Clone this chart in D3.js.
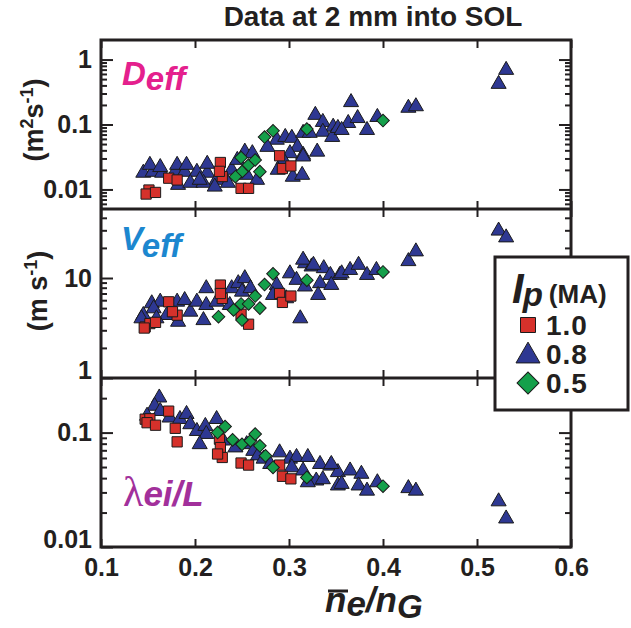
<!DOCTYPE html>
<html><head><meta charset="utf-8">
<script src="https://cdn.jsdelivr.net/npm/d3@7"></script>
<style>
body{margin:0;background:#fff}
svg{display:block}
text{font-family:"Liberation Sans",Arial,Helvetica,sans-serif;font-weight:bold;fill:#231f20}
</style>
</head><body>
<svg id="c" width="631" height="628"></svg>
<script>
// ---------- data ----------
const xTicks = [0.1, 0.2, 0.3, 0.4, 0.5, 0.6];
const xTickLabels = ["0.1", "0.2", "0.3", "0.4", "0.5", "0.6"];

const legendLabels = ["1.0", "0.8", "0.5"];

// Panel 1: D_eff (m^2 s^-1)
const dTri = [[0.145,0.018],[0.155,0.0186],[0.165,0.018],[0.179,0.019],[0.189,0.0186],[0.202,0.0186],[0.213,0.018],
[0.152,0.0238],[0.163,0.022],[0.181,0.0238],[0.191,0.0238],[0.213,0.0247],
[0.182,0.0117],[0.195,0.0126],[0.209,0.0126],[0.223,0.014],
[0.235,0.0126],[0.239,0.02],[0.221,0.011],[0.205,0.014],
[0.253,0.038],[0.261,0.036],[0.245,0.0284],[0.255,0.0167],[0.266,0.014],
[0.287,0.058],[0.296,0.064],[0.303,0.062],[0.277,0.045],[0.309,0.045],[0.315,0.034],[0.301,0.036],[0.294,0.0284],[0.304,0.0156],[0.314,0.0167],[0.288,0.02],[0.330,0.038],
[0.328,0.14],[0.336,0.109],[0.347,0.092],[0.315,0.074],[0.336,0.077],[0.346,0.064],[0.352,0.088],[0.366,0.22],[0.363,0.105],[0.373,0.125],[0.383,0.082],[0.394,0.13],[0.427,0.18],[0.435,0.19],[0.322,0.074],[0.356,0.082],[0.315,0.032],
[0.531,0.69],[0.523,0.42]];
const dSq = [[0.151,0.0098],[0.148,0.0085],[0.158,0.009],[0.172,0.0149],[0.181,0.014],[0.227,0.026],[0.229,0.0158],[0.226,0.019],[0.249,0.0104],[0.257,0.0104],[0.290,0.033],[0.293,0.021],[0.302,0.023]];
const dDia = [[0.249,0.031],[0.257,0.0237],[0.264,0.0284],[0.250,0.0188],[0.243,0.0157],[0.269,0.0188],[0.274,0.064],[0.283,0.080],[0.319,0.085],[0.400,0.115]];

// Panel 2: V_eff (m s^-1)
const vTri = [[0.145,4.25],[0.154,5.57],[0.163,5.78],[0.156,4.96],[0.170,4.25],[0.181,5.78],[0.189,6.0],[0.195,4.59],[0.202,5.78],[0.212,7.88],[0.212,5.35],[0.209,3.78],[0.182,3.64],[0.159,3.94],[0.143,3.94],[0.223,5.78],[0.239,7.88],[0.246,8.85],[0.253,9.93],[0.250,7.28],[0.259,7.88],[0.237,5.35],[0.287,8.5],[0.301,11.1],[0.308,9.55],[0.317,14.0],[0.324,13.0],[0.337,12.5],[0.344,10.7],[0.333,8.85],[0.354,10.7],[0.312,3.94],[0.283,6.75],[0.297,6.25],[0.331,6.75],[0.345,8.5],
[0.315,15.2],[0.326,13.5],[0.356,11.1],[0.365,12.0],[0.374,13.5],[0.383,10.7],[0.393,12.0],[0.317,8.2],[0.427,14.7],[0.435,18.4],[0.523,29.7],[0.531,25.4]];
const vSq = [[0.147,3.24],[0.152,3.5],[0.158,3.6],[0.146,3.16],[0.172,5.78],[0.181,4.25],[0.176,4.6],[0.227,8.5],[0.229,6.25],[0.227,7.0],[0.249,4.35],[0.257,3.45],[0.290,7.0],[0.293,5.7],[0.302,6.6]];
const vDia = [[0.283,11.0],[0.274,8.6],[0.264,6.6],[0.249,5.5],[0.257,5.5],[0.269,5.0],[0.241,4.8],[0.225,4.1],[0.250,3.8],[0.319,9.5],[0.400,11.5]];

// Panel 3: lambda_ei / L
const lTri = [[0.162,0.202],[0.157,0.171],[0.149,0.14],[0.163,0.154],[0.173,0.135],[0.184,0.131],[0.191,0.145],[0.195,0.118],[0.202,0.103],[0.211,0.114],[0.212,0.097],[0.223,0.131],[0.205,0.079],[0.230,0.085],[0.243,0.074],[0.255,0.079],[0.262,0.069],[0.267,0.063],[0.273,0.059],[0.290,0.067],[0.301,0.059],[0.308,0.061],[0.320,0.061],[0.333,0.053],[0.344,0.0513],[0.352,0.045],[0.303,0.0496],[0.315,0.0465],[0.329,0.038],[0.336,0.039],[0.320,0.0367],[0.280,0.053],[0.352,0.0344],
[0.345,0.053],[0.365,0.0465],[0.377,0.0435],[0.356,0.0355],[0.374,0.0344],[0.383,0.031],[0.394,0.0367],[0.427,0.0326],[0.435,0.031],[0.523,0.025],[0.531,0.0177]];
const lSq = [[0.147,0.131],[0.152,0.132],[0.149,0.122],[0.158,0.116],[0.172,0.154],[0.179,0.109],[0.181,0.083],[0.226,0.0876],[0.227,0.074],[0.229,0.0606],[0.224,0.065],[0.249,0.0542],[0.257,0.052],[0.290,0.052],[0.293,0.0415],[0.302,0.0394]];
const lDia = [[0.232,0.113],[0.224,0.1],[0.240,0.0864],[0.250,0.079],[0.259,0.085],[0.264,0.097],[0.269,0.0766],[0.275,0.0627],[0.283,0.0496],[0.319,0.0406],[0.400,0.034]];

const dMajor = [0.01, 0.1, 1], dLabels = ["0.01", "0.1", "1"];
const vMajor = [1, 10], vLabels = ["1", "10"];
const lMajor = [0.01, 0.1], lLabels = ["0.01", "0.1"];

// ---------- layout ----------
const svg = d3.select("#c");
const X0 = 101, X1 = 571;
const x = d3.scaleLinear().domain([0.1, 0.6]).range([X0, X1]);

const COL = {sq: "#d6312b", tri: "#2e3892", dia: "#15a04b"};
const symSq = d3.symbol().type(d3.symbolSquare).size(105)();
const symTri = d3.symbol().type(d3.symbolTriangle).size(98)();
const symDia = d3.symbol().type(d3.symbolSquare).size(80)();

function minorTicks(lo, hi) {
  const out = [];
  for (let e = Math.floor(Math.log10(lo)); e <= Math.ceil(Math.log10(hi)); e++) {
    for (let m = 2; m <= 9; m++) {
      const v = m * Math.pow(10, e);
      if (v > lo * 1.0001 && v < hi * 0.9999) out.push(v);
    }
  }
  return out;
}

const panels = [
  {top: 40, bot: 209, dom: [0.005, 2], major: dMajor, labels: dLabels, tri: dTri, sq: dSq, dia: dDia},
  {top: 209, bot: 378, dom: [1, 49], major: vMajor, labels: vLabels, tri: vTri, sq: vSq, dia: vDia},
  {top: 378, bot: 547, dom: [0.01, 0.3], major: lMajor, labels: lLabels, tri: lTri, sq: lSq, dia: lDia}
];

panels.forEach((p, i) => {
  const y = d3.scaleLog().domain(p.dom).range([p.bot, p.top]);
  const g = svg.append("g");
  const mk = (arr, path, col, rot) => g.append("g").selectAll("path").data(arr).join("path")
    .attr("d", path)
    .attr("transform", d => `translate(${x(d[0])},${y(d[1])})` + (rot ? " rotate(45)" : ""))
    .attr("fill", col).attr("stroke", "#1b1b1b").attr("stroke-width", 1);
  mk(p.tri, symTri, COL.tri, false);
  mk(p.sq, symSq, COL.sq, false);
  mk(p.dia, symDia, COL.dia, true);

  const minors = minorTicks(p.dom[0], p.dom[1]);
  const fmt = d => p.labels[p.major.indexOf(d)];
  g.append("g").attr("transform", `translate(${X0},0)`)
    .call(d3.axisLeft(y).tickValues(minors).tickSize(-6).tickSizeOuter(0).tickFormat(""));
  const glm = g.append("g").attr("transform", `translate(${X0},0)`);
  glm.call(d3.axisLeft(y).tickValues(p.major).tickSize(-12).tickSizeOuter(0).tickPadding(9).tickFormat(fmt));
  g.append("g").attr("transform", `translate(${X1},0)`)
    .call(d3.axisRight(y).tickValues(minors).tickSize(-6).tickSizeOuter(0).tickFormat(""));
  g.append("g").attr("transform", `translate(${X1},0)`)
    .call(d3.axisRight(y).tickValues(p.major).tickSize(-12).tickSizeOuter(0).tickFormat(""));
  g.append("g").attr("transform", `translate(0,${p.top})`)
    .call(d3.axisTop(x).tickValues(xTicks).tickSize(-8).tickSizeOuter(0).tickFormat(""));
  g.append("g").attr("transform", `translate(0,${p.bot})`)
    .call(d3.axisBottom(x).tickValues(xTicks).tickSize(-8).tickSizeOuter(0).tickPadding(11)
      .tickFormat(i === 2 ? (d => xTickLabels[xTicks.indexOf(d)]) : ""));
  g.selectAll(".domain").remove();
  g.selectAll(".tick text").filter(function () { return !this.textContent; }).remove();
  g.selectAll(".tick line").attr("stroke", "#231f20").attr("stroke-width", 2);
  g.selectAll(".tick text").attr("font-size", 25).attr("fill", "#231f20")
    .attr("font-family", '"Liberation Sans", Arial, sans-serif').attr("font-weight", "bold");
  glm.selectAll(".tick text").filter(d => Math.abs(y(d) - p.bot) < 1).attr("dy", "0.0em");
});

// frames
svg.append("rect").attr("x", X0).attr("y", 40).attr("width", X1 - X0).attr("height", 547 - 40)
  .attr("fill", "none").attr("stroke", "#231f20").attr("stroke-width", 3);
[209, 378].forEach(yy => svg.append("line").attr("x1", X0).attr("x2", X1).attr("y1", yy).attr("y2", yy)
  .attr("stroke", "#231f20").attr("stroke-width", 3));

// title
svg.append("text").attr("x", 373).attr("y", 26).attr("text-anchor", "middle")
  .attr("font-size", 28).text("Data at 2 mm into SOL");

// y-axis titles
const t1 = svg.append("text").attr("transform", "translate(43,120) rotate(-90)").attr("text-anchor", "middle").attr("font-size", 27);
t1.append("tspan").text("(m");
t1.append("tspan").attr("font-size", 18).attr("dy", -10).text("2");
t1.append("tspan").attr("dy", 10).text("s");
t1.append("tspan").attr("font-size", 18).attr("dy", -10).text("-1");
t1.append("tspan").attr("dy", 10).text(")");
const t2 = svg.append("text").attr("transform", "translate(47,291) rotate(-90)").attr("text-anchor", "middle").attr("font-size", 27);
t2.append("tspan").text("(m s");
t2.append("tspan").attr("font-size", 18).attr("dy", -10).text("-1");
t2.append("tspan").attr("dy", 10).text(")");

// panel labels
const pl1 = svg.append("text").attr("x", 122).attr("y", 85).attr("font-style", "italic").attr("font-size", 33).style("fill", "#e4208d");
pl1.append("tspan").text("D");
pl1.append("tspan").attr("dy", 5).attr("font-size", 33).text("eff");
const pl2 = svg.append("text").attr("x", 121).attr("y", 250).attr("font-style", "italic").attr("font-size", 33).style("fill", "#1c87cf");
pl2.append("tspan").text("V");
pl2.append("tspan").attr("dy", 7).attr("font-size", 33).text("eff");
const pl3 = svg.append("text").attr("x", 123).attr("y", 506).attr("font-size", 35).style("fill", "#a2309b");
pl3.append("tspan").attr("font-family", '"Liberation Serif","DejaVu Serif",serif').attr("font-weight", "normal").attr("font-size", 42).text("λ");
pl3.append("tspan").attr("font-style", "italic").text("ei/L");

// x-axis title
const xt = svg.append("text").attr("x", 325).attr("y", 612).attr("font-style", "italic").attr("font-size", 35);
xt.append("tspan").text("n");
xt.append("tspan").attr("dy", 4).text("e");
xt.append("tspan").attr("dy", -4).text("/n");
xt.append("tspan").attr("dy", 6).attr("font-size", 33).text("G");
svg.append("line").attr("x1", 328).attr("x2", 348).attr("y1", 591).attr("y2", 591).attr("stroke", "#231f20").attr("stroke-width", 3);

// legend
const lg = svg.append("g");
lg.append("rect").attr("x", 495).attr("y", 257).attr("width", 133).attr("height", 153)
  .attr("fill", "#fff").attr("stroke", "#231f20").attr("stroke-width", 3);
const lt = lg.append("text").attr("x", 512).attr("y", 303);
lt.append("tspan").attr("font-style", "italic").attr("font-size", 42).text("I");
lt.append("tspan").attr("font-style", "italic").attr("font-size", 33).attr("dy", 3).attr("dx", -1).text("p");
lt.append("tspan").attr("font-size", 26).attr("dy", -3).attr("dx", 6).text("(MA)");
const legSyms = [
  {path: d3.symbol().type(d3.symbolSquare).size(225)(), col: COL.sq, rot: false},
  {path: d3.symbol().type(d3.symbolTriangle).size(250)(), col: COL.tri, rot: false},
  {path: d3.symbol().type(d3.symbolSquare).size(240)(), col: COL.dia, rot: true}
];
legendLabels.forEach((lab, i) => {
  const cy = 325 + i * 29;
  lg.append("path").attr("d", legSyms[i].path)
    .attr("transform", `translate(528,${cy + (i === 1 ? 2 : 0)})` + (legSyms[i].rot ? " rotate(45)" : ""))
    .attr("fill", legSyms[i].col).attr("stroke", "#1b1b1b").attr("stroke-width", 1);
  lg.append("text").attr("x", 546).attr("y", cy + 10).attr("font-size", 28)
    .attr("letter-spacing", 1).text(lab);
});
</script>
</body></html>
